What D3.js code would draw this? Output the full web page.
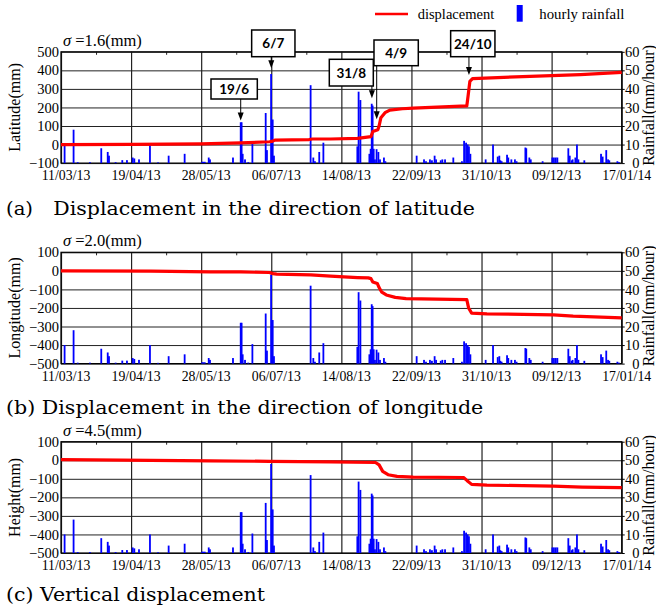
<!DOCTYPE html>
<html>
<head>
<meta charset="utf-8">
<script src="https://cdn.jsdelivr.net/npm/d3@7"></script>
<style>
  body { margin: 0; background: #fff; }
  svg { display: block; }
</style>
</head>
<body>
<script>
// date tick labels, one every 39 days
var tickLabels = ["11/03/13", "19/04/13", "28/05/13", "06/07/13", "14/08/13", "22/09/13", "31/10/13", "09/12/13", "17/01/14"];

// hourly rainfall (mm/hour), time in days after 11/03/13
var rainDay = [2, 7, 9.3, 16.1, 22.4, 26, 26.7, 30.4, 34.1, 36.7, 39.9, 40.8, 43.4, 49.5, 54, 59.9, 68.8, 78.5, 79.2, 80,
  82.2, 82.9, 95.7, 100, 100.5, 101.1, 102.4, 104.2, 106.5, 113.9, 114.6, 116.9, 117.8, 118.5, 138.9, 140.4, 141.3, 143.7, 146,
  164.9, 165.6, 166.6, 171.6, 172.3, 172.9, 173.4, 174, 174.7, 175.6, 176.6, 177.5, 179.7, 180.5, 197.9, 202, 203.1, 205.3,
  206.4, 207.9, 208.7, 211.3, 212.2, 213.7, 218.3, 223.1, 224.3, 225.4, 226.3, 227, 227.8, 236.3, 240.4, 243, 243.9, 244.5,
  245.2, 248.2, 248.9, 250.6, 252.6, 253.5, 258.4, 258.9, 260.6, 261.4, 268, 273.4, 274.3, 275.3, 276.2, 282.3, 283.1, 284.2,
  284.7, 286.2, 287.1, 287.9, 291.2, 300.5, 301.4, 303.4, 304.4, 305.1, 309.6, 310.5];
var rainValue = [10, 18, 0.5, 0.5, 8, 6, 4, 0.5, 1.6, 1.6, 3, 2.5, 2, 10, 0.4, 4, 5, 0.7, 0.7, 0.7,
  3, 2, 3, 22, 22, 5, 2, 0.5, 10.5, 27, 7, 48, 23.5, 4, 42, 3, 1, 6, 11,
  9, 38.5, 34, 5, 7.7, 32, 31, 7.7, 2, 7.5, 6, 2, 3, 1, 4, 2, 1, 2,
  1.5, 4, 2, 1.5, 2, 2, 3, 1, 12, 11, 10, 9, 5, 2, 10, 3.5, 4, 1.5,
  1, 4.5, 3, 2, 2, 1, 8.4, 8, 3, 2, 1, 3, 3, 3, 3, 8, 4, 1.5,
  2, 3, 10, 2, 1.5, 5, 3.5, 7, 2, 1.5, 1, 0.5];

// displacement (mm), time in days after 11/03/13
var latDay = [0, 40, 78, 100, 116, 117.5, 119, 138, 140, 150, 165, 172.5, 173.5, 176.3, 177, 178, 180.3, 183, 190, 196, 225.8, 226.5, 227.5, 229, 261, 289, 312];
var latValue = [0, 1, 4, 9, 15, 17, 24, 27, 30, 30, 33, 43, 70, 80, 100, 145, 172, 186, 193, 196, 208, 260, 340, 355, 368, 377, 389];

var lonDay = [0, 50, 83, 100, 116, 118, 120, 139, 150, 165, 171, 172.5, 173.5, 176, 177, 178.5, 181, 186, 192, 225.8, 226.8, 228.5, 237, 274, 285, 312];
var lonValue = [0, -2, -5, -6, -9, -15, -18, -22, -28, -36, -38, -42, -60, -68, -90, -115, -130, -143, -150, -155, -200, -228, -232, -237, -244, -253];

var hgtDay = [0, 50, 83, 116, 150, 175, 177, 179, 182, 187, 196, 224, 226, 228.5, 237, 274, 290, 312];
var hgtValue = [3, -1, -3, -6, -9, -12, -25, -60, -78, -87, -91, -93, -110, -130, -134, -140, -145, -148];

var latTicks = [-100, 0, 100, 200, 300, 400, 500];
var lonTicks = [-500, -400, -300, -200, -100, 0, 100];
var rainTicks = [0, 10, 20, 30, 40, 50, 60];

var axisTitles = ["Latitude(mm)", "Longitude(mm)", "Height(mm)"];
var sigmas = ["1.6", "2.0", "4.5"];

// event labels in panel (a): date and arrow tip (mm)
var annLabel = ["19/6", "6/7", "31/8", "4/9", "24/10"];
var annDate = ["19/06/13", "06/07/13", "31/08/13", "04/09/13", "24/10/13"];
var annTip = [129, 411, 250, 136, 375];

var W = 656, H = 610;
var left = 61, right = 621.7, ph = 111.3;
var tops = [51.8, 252.3, 441.7];

var parse = d3.timeParse("%d/%m/%y");
var t0 = parse(tickLabels[0]);
function dayToDate(d) { return new Date(t0.getTime() + d * 864e5); }
var tickDates = tickLabels.map(parse);

var x = d3.scaleTime()
    .domain([tickDates[0], tickDates[tickDates.length - 1]])
    .range([left, right]);

var svg = d3.select("body").append("svg")
    .attr("width", W)
    .attr("height", H);

svg.append("rect").attr("width", W).attr("height", H).attr("fill", "#fff");

var panels = [
  {day: latDay, value: latValue, ticks: latTicks},
  {day: lonDay, value: lonValue, ticks: lonTicks},
  {day: hgtDay, value: hgtValue, ticks: lonTicks}
];

var serif = "'Liberation Serif', 'Times New Roman', serif";

panels.forEach(function(p, k) {
  var top = tops[k], bottom = top + ph;
  var yL = d3.scaleLinear().domain(d3.extent(p.ticks)).range([bottom, top]);
  var yR = d3.scaleLinear().domain([0, 60]).range([bottom, top]);
  var g = svg.append("g");

  // grid
  g.append("g")
      .attr("transform", "translate(" + left + ",0)")
      .call(d3.axisLeft(yL).tickValues(p.ticks).tickSize(-(right - left)).tickFormat(""))
      .call(function(s) { s.select(".domain").remove(); })
      .selectAll("line").attr("stroke", "#222").attr("stroke-width", 1);
  g.append("g")
      .attr("transform", "translate(0," + bottom + ")")
      .call(d3.axisBottom(x).tickValues(tickDates).tickSize(-ph).tickFormat(""))
      .call(function(s) { s.select(".domain").remove(); })
      .selectAll("line").attr("stroke", "#222").attr("stroke-width", 1.2);

  // minor ticks on the top edge
  var mids = d3.pairs(tickDates).map(function(d) { return new Date((d[0].getTime() + d[1].getTime()) / 2); });
  g.append("g")
      .attr("transform", "translate(0," + top + ")")
      .call(d3.axisBottom(x).tickValues(mids).tickSize(3).tickFormat(""))
      .call(function(s) { s.select(".domain").remove(); })
      .selectAll("line").attr("stroke", "#222");

  g.append("rect")
      .attr("x", left).attr("y", top)
      .attr("width", right - left).attr("height", ph)
      .attr("fill", "none").attr("stroke", "#000").attr("stroke-width", 1.2);

  // rainfall bars
  g.append("g").selectAll("rect")
      .data(rainDay)
      .enter().append("rect")
      .attr("x", function(d) { return x(dayToDate(d)) - 0.9; })
      .attr("width", 1.8)
      .attr("y", function(d, i) { return yR(rainValue[i]); })
      .attr("height", function(d, i) { return bottom - yR(rainValue[i]); })
      .attr("fill", "#0000ff");

  // displacement line
  var line = d3.line()
      .x(function(d) { return x(dayToDate(d)); })
      .y(function(d, i) { return yL(p.value[i]); });
  g.append("path")
      .datum(p.day)
      .attr("d", line)
      .attr("fill", "none")
      .attr("stroke", "#ff0000")
      .attr("stroke-width", 3.2)
      .attr("stroke-linejoin", "round");

  // left axis labels
  g.append("g")
      .attr("transform", "translate(" + left + ",0)")
      .call(d3.axisLeft(yL).tickValues(p.ticks).tickSize(0).tickPadding(2))
      .call(function(s) { s.select(".domain").remove(); })
      .selectAll("text")
      .attr("font-family", serif).attr("font-size", 14.5).attr("fill", "#000");

  // right axis
  var ra = g.append("g")
      .attr("transform", "translate(" + right + ",0)")
      .call(d3.axisRight(yR).tickValues(rainTicks).tickSize(3).tickPadding(2));
  ra.select(".domain").remove();
  ra.selectAll("line").attr("stroke", "#000");
  ra.selectAll("text")
      .attr("text-anchor", "end").attr("x", 17.8)
      .attr("font-family", serif).attr("font-size", 14.5).attr("fill", "#000");

  // bottom date labels
  g.append("g")
      .attr("transform", "translate(0," + bottom + ")")
      .call(d3.axisBottom(x).tickValues(tickDates).tickSize(0).tickPadding(7.5)
        .tickFormat(d3.timeFormat("%d/%m/%y")))
      .call(function(s) { s.select(".domain").remove(); })
      .selectAll("text")
      .attr("dx", 4.5)
      .attr("font-family", serif).attr("font-size", 13.8).attr("fill", "#000");

  // axis titles
  svg.append("text")
      .attr("transform", "translate(20," + (top + ph / 2) + ") rotate(-90)")
      .attr("text-anchor", "middle")
      .attr("font-family", serif).attr("font-size", 16)
      .text(axisTitles[k]);
  svg.append("text")
      .attr("transform", "translate(653.5," + (top + ph / 2 - 2) + ") rotate(-90)")
      .attr("text-anchor", "middle")
      .attr("font-family", serif).attr("font-size", 16)
      .text("Rainfall(mm/hour)");

  // sigma
  var sg = svg.append("text")
      .attr("x", 63).attr("y", top - 6)
      .attr("font-family", serif).attr("font-size", 16.5);
  sg.append("tspan").attr("font-style", "italic").text("σ");
  sg.append("tspan").text(" =" + sigmas[k] + "(mm)");

  // annotations on panel (a)
  if (k === 0) {
    var boxes = [[-29.7, 79, 46.3, 20], [-19.6, 30, 43.3, 26.7], [-42.6, 59.3, 44, 26.7], [-5.1, 40, 44.3, 25.7], [-18.3, 30.7, 44.3, 26]];
    var arrowX = [0, 0, 0, -2.4, 0];
    annLabel.forEach(function(lab, i) {
      var ax = x(parse(annDate[i])) + arrowX[i];
      var b = boxes[i];
      var bx = x(parse(annDate[i])) + b[0];
      var tipY = yL(annTip[i]);
      svg.append("line")
          .attr("x1", ax).attr("x2", ax)
          .attr("y1", b[1] + b[3]).attr("y2", tipY - 6)
          .attr("stroke", "#000").attr("stroke-width", 1);
      svg.append("path")
          .attr("d", "M" + (ax - 3) + "," + (tipY - 8) + "L" + (ax + 3) + "," + (tipY - 8) + "L" + ax + "," + tipY + "Z")
          .attr("fill", "#000");
      svg.append("rect")
          .attr("x", bx).attr("y", b[1])
          .attr("width", b[2]).attr("height", b[3])
          .attr("fill", "#fff").attr("stroke", "#000").attr("stroke-width", 1.5);
      svg.append("text")
          .attr("x", bx + b[2] / 2).attr("y", b[1] + b[3] / 2)
          .attr("dy", "0.36em")
          .attr("text-anchor", "middle")
          .attr("font-family", "Lato, 'Open Sans', sans-serif")
          .attr("font-weight", "bold")
          .attr("font-size", 13.5)
          .text(lab);
    });
  }
});

// legend
svg.append("line")
    .attr("x1", 375).attr("x2", 408).attr("y1", 14).attr("y2", 14)
    .attr("stroke", "#ff0000").attr("stroke-width", 2.5);
svg.append("text")
    .attr("x", 417.7).attr("y", 18.5)
    .attr("font-family", serif).attr("font-size", 14.5)
    .text("displacement");
svg.append("rect")
    .attr("x", 516.7).attr("y", 5).attr("width", 6).attr("height", 16.7)
    .attr("fill", "#0000ff");
svg.append("text")
    .attr("x", 539.3).attr("y", 18.5)
    .attr("font-family", serif).attr("font-size", 14.8)
    .text("hourly rainfall");

// captions
var capFont = "'DejaVu Serif', serif";
function caption(txt, x0, y0, len) {
  svg.append("text")
      .attr("x", x0).attr("y", y0)
      .attr("font-family", capFont).attr("font-size", 19)
      .attr("textLength", len).attr("lengthAdjust", "spacingAndGlyphs")
      .text(txt);
}
caption("(a)", 6, 215, 27);
caption("Displacement in the direction of latitude", 53.3, 215, 421.7);
caption("(b) Displacement in the direction of longitude", 6, 413.5, 477.3);
caption("(c) Vertical displacement", 6, 601, 259);
</script>
</body>
</html>
